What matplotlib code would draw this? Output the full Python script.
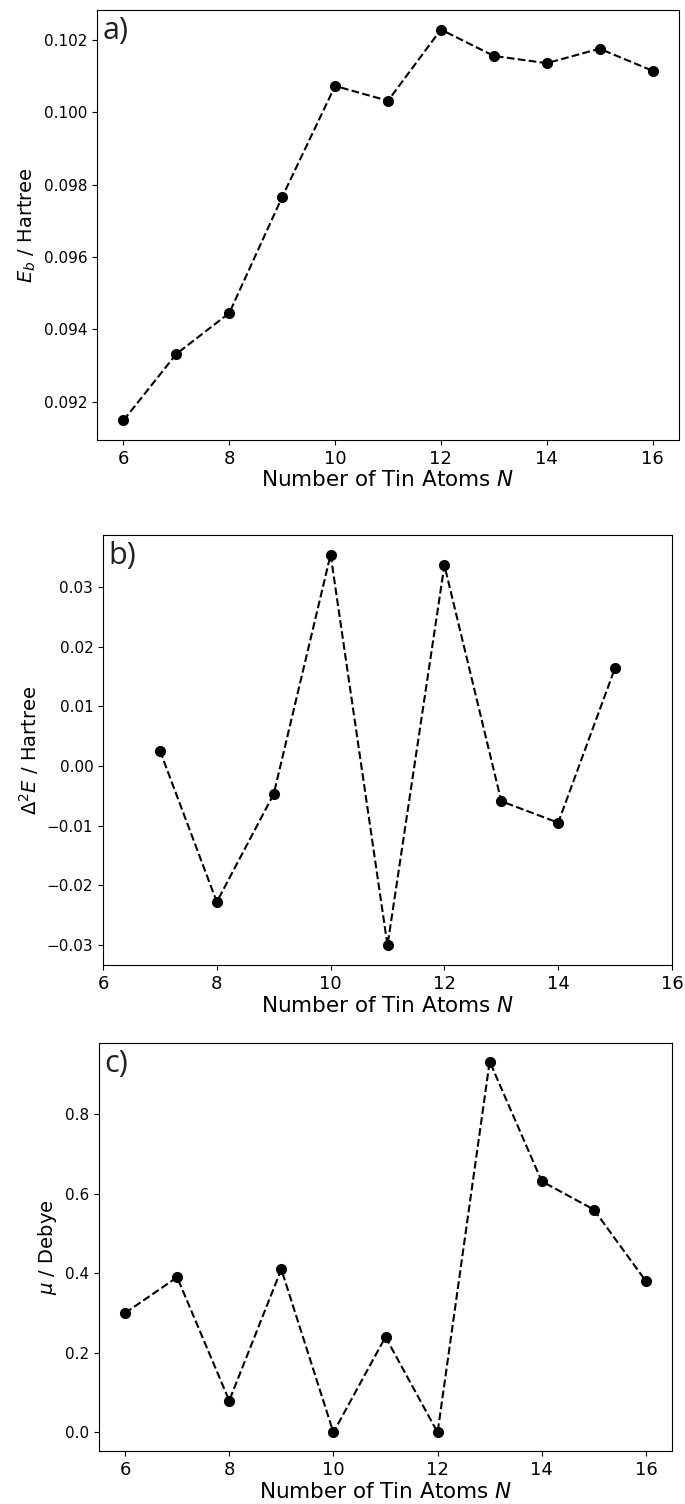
import matplotlib
matplotlib.use('Agg')
import matplotlib.pyplot as plt

# binding energy per atom
n_eb = [6, 7, 8, 9, 10, 11, 12, 13, 14, 15, 16]
eb = [0.09148, 0.09332, 0.09445, 0.09766, 0.10073, 0.10032, 0.10229,
      0.10156, 0.10136, 0.10176, 0.10115]

# second difference of energy
n_d2e = [7, 8, 9, 10, 11, 12, 13, 14, 15]
d2e = [0.0026, -0.0228, -0.0047, 0.0355, -0.0301, 0.0337, -0.0059,
       -0.0095, 0.0165]

# dipole moment
n_mu = [6, 7, 8, 9, 10, 11, 12, 13, 14, 15, 16]
mu = [0.30, 0.39, 0.08, 0.41, 0.0, 0.24, 0.0, 0.932, 0.631, 0.56, 0.38]

xlab = r'Number of Tin Atoms $N$'

fig = plt.figure(figsize=(6.85, 15.04), dpi=100)
W, H = 685.0, 1504.0


def add_ax(l, r, t, b):
    return fig.add_axes([l / W, 1 - b / H, (r - l) / W, (b - t) / H])


ax1 = add_ax(97, 679, 10, 440)
ax2 = add_ax(103, 672, 535, 965)
ax3 = add_ax(99, 672, 1043, 1451)

ax1.plot(n_eb, eb, 'k--o', lw=1.5, ms=7)
ax1.set_ylabel(r'$E_b$ / Hartree', fontsize=14)
ax1.set_xticks([6, 8, 10, 12, 14, 16])

ax2.plot(n_d2e, d2e, 'k--o', lw=1.5, ms=7)
ax2.set_ylabel(r'$\Delta^2E$ / Hartree', fontsize=14)
ax2.set_xlim(6, 16)

ax3.plot(n_mu, mu, 'k--o', lw=1.5, ms=7)
ax3.set_ylabel(r'$\mu$ / Debye', fontsize=14)
ax3.set_xticks([6, 8, 10, 12, 14, 16])

for ax, lab in zip([ax1, ax2, ax3], ['a)', 'b)', 'c)']):
    ax.set_xlabel(xlab, fontsize=15.5, labelpad=2)
    ax.tick_params(axis='x', labelsize=13)
    ax.tick_params(axis='y', labelsize=11)
    ax.text(0.01, 0.985, lab, transform=ax.transAxes, ha='left', va='top',
            fontsize=22, family='Open Sans', color='#222222')

plt.savefig('out.png', dpi=100)
